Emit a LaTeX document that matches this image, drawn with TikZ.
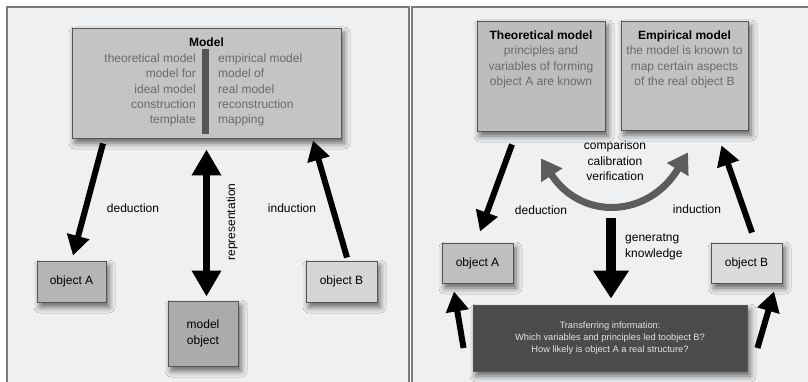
\documentclass[tikz,border=0pt]{standalone}
\usepackage{fontspec}
\setmainfont{Liberation Sans}
\usepackage{tikz}
\usetikzlibrary{arrows.meta}
\usetikzlibrary{shapes}
\usetikzlibrary{positioning}
\usetikzlibrary{shadows.blur}

\definecolor{panelbg}{HTML}{EEF0F2}
\definecolor{panelline}{HTML}{7A7A7A}
\definecolor{boxline}{HTML}{555555}
\definecolor{greytext}{HTML}{6A6A6A}
\definecolor{darkfill}{HTML}{4B4B4B}
\definecolor{lighttext}{HTML}{E2E2E2}
\definecolor{curvegrey}{HTML}{5C5C5C}

\begin{document}
\begin{tikzpicture}[x=1pt,y=-1pt]
            \tikzset{box/.style={draw=boxline, line width=0.9pt, inner sep=0pt,
                        blur shadow={shadow xshift=3pt, shadow yshift=-5pt,
                        shadow blur radius=6pt, shadow opacity=60}},
                    txt/.style={font=\fontsize{12}{15.5}\selectfont, inner sep=0pt},
                    greytxt/.style={txt, text=greytext},
                    title/.style={font=\fontsize{12}{15}\selectfont\bfseries, inner sep=0pt},
                    fatarrow/.style={line width=6pt, -{Triangle[length=20pt,width=22pt]}},
                    >={Triangle[length=26pt,width=28pt]}}
            \useasboundingbox (0,0) rectangle (808,382);
            % panels
            \fill[panelbg] (7,7) rectangle (409,390);
            \fill[panelbg] (412,7) rectangle (812,390);
            \draw[panelline, line width=1.2pt] (7,390) -- (7,7) -- (409,7) -- (409,390);
            \draw[panelline, line width=1.2pt] (412,390) -- (412,7) -- (812,7);

            % left panel
            \node[box, fill=black!23, minimum width=269pt, minimum height=110pt] (model) at (206.5,83) {};
            \node[title, anchor=base] (mtitle) at (206.5,46.5) {Model};
            \fill[boxline] (202,49) rectangle (209,134);
            \foreach \l/\r [count=\i] in {theoretical model/empirical model, model for/model of,
                    ideal model/real model, construction/reconstruction, template/mapping} {
                \node[greytxt, anchor=base east] (ml\i) at (196,47.5+15.2*\i) {\l};
                \node[greytxt, anchor=base west] (mr\i) at (218,47.5+15.2*\i) {\r};
            }
            \node[box, fill=black!29, minimum width=69pt, minimum height=41pt, txt] (objA) at (71.5,281.5) {object A};
            \node[box, fill=black!16, minimum width=71pt, minimum height=41pt, txt] (objB) at (341.5,281.5) {object B};
            \node[box, fill=black!33, minimum width=70pt, minimum height=65pt, txt, align=center] (mobj) at (203,333.5) {model\\object};

            \draw[fatarrow] ([shift={(-103.5,5)}]model.south) -- ([shift={(1.5,-5)}]objA.north);
            \draw[fatarrow] ([shift={(5.5,-3)}]objB.north) -- ([shift={(106.5,2)}]model.south);
            \draw[line width=7pt, <->] ([shift={(0,11)}]model.south) -- ([shift={(3.5,-4)}]mobj.north);
            \node[txt] (ded) at (133,208) {deduction};
            \node[txt] (ind) at (292,208) {induction};
            \node[txt, rotate=90] (rep) at (232,222) {representation};

            % right panel
            \node[box, fill=black!26, minimum width=128pt, minimum height=110pt] (theo) at (541,76) {};
            \node[box, fill=black!24, minimum width=127pt, minimum height=109pt] (emp) at (684.5,75.5) {};
            \node[title, anchor=base] (ttitle) at (541,39.5) {Theoretical model};
            \node[title, anchor=base] (etitle) at (684.5,39.5) {Empirical model};
            \node[greytxt, align=center, anchor=north] (tbody) at (541,46) {principles and\\variables of forming\\object A are known};
            \node[greytxt, align=center, anchor=north] (ebody) at (684.5,46) {the model is known to\\map certain aspects\\of the real object B};

            \node[box, fill=black!25, minimum width=71pt, minimum height=40pt, txt] (objA2) at (477.5,263) {object A};
            \node[box, fill=black!14, minimum width=71pt, minimum height=40pt, txt] (objB2) at (746.5,263) {object B};
            \node[box, fill=darkfill, minimum width=274pt, minimum height=66pt, text=lighttext,
                  font=\fontsize{9.3}{11.8}\selectfont, align=center] (transfer) at (610,338)
                  {Transferring information:\\Which variables and principles led toobject B?\\How likely is object A a real structure?};

            \node[txt, align=center] (cmp) at (615,161) {comparison\\calibration\\verification};
            \draw[curvegrey, line width=7pt, {Triangle[length=20pt,width=24pt]}-{Triangle[length=20pt,width=24pt]}]
                ([shift={(0,27)}]theo.south) .. controls +(40,62) and +(-40,66) .. ([shift={(3.5,22)}]emp.south);

            \draw[fatarrow] ([shift={(-29,13)}]theo.south) -- ([shift={(2.5,-11)}]objA2.north);
            \draw[fatarrow] ([shift={(5.5,-10)}]objB2.north) -- ([shift={(37,15)}]emp.south);
            \coordinate (gen) at (611,218);
            \draw[line width=10pt, -{Triangle[length=28pt,width=34pt]}] (gen) -- ([shift={(1,-6)}]transfer.north);
            \node[txt, align=left, anchor=west] (genlbl) at (625,247) {generatng\\knowledge};
            \node[txt] (ded2) at (541,210) {deduction};
            \node[txt] (ind2) at (697,209) {induction};

            \draw[fatarrow] ([shift={(-9,10)}]transfer.west) -- ([shift={(-23.5,8)}]objA2.south);
            \draw[fatarrow] ([shift={(10,10)}]transfer.east) -- ([shift={(27.5,8)}]objB2.south);
        \end{tikzpicture}
\end{document}
